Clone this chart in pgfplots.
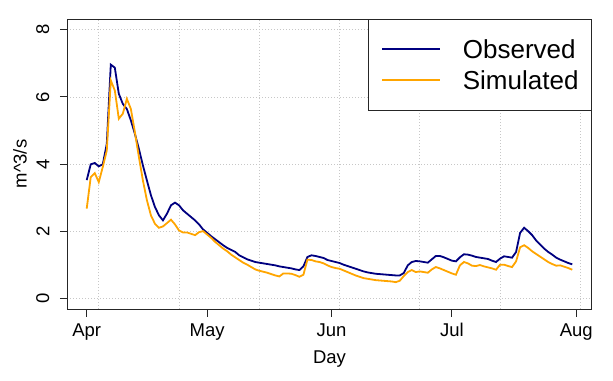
\documentclass[border=0pt]{standalone}
\usepackage{pgfplots}
\usepackage{pgfplotstable}
\pgfplotsset{compat=1.18}
\usepackage{fontspec}
\setmainfont{Liberation Sans}
\definecolor{obs}{HTML}{000080}
\definecolor{sim}{HTML}{FFA500}
\pgfplotstableread{
d obs sim
0 3.52 2.67
1 3.99 3.61
2 4.03 3.73
3 3.93 3.46
4 3.99 3.91
5 4.60 4.40
6 6.96 6.49
7 6.87 6.19
8 6.09 5.35
9 5.79 5.50
10 5.64 5.94
11 5.30 5.64
12 4.90 4.95
13 4.45 4.21
14 3.96 3.51
15 3.51 2.92
16 3.07 2.47
17 2.72 2.22
18 2.47 2.10
19 2.32 2.14
20 2.52 2.24
21 2.77 2.34
22 2.85 2.20
23 2.77 2.02
24 2.62 1.96
25 2.52 1.96
26 2.42 1.92
27 2.32 1.88
28 2.20 1.97
29 2.05 2.00
30 1.95 1.90
31 1.85 1.80
32 1.76 1.68
33 1.67 1.58
34 1.58 1.48
35 1.50 1.40
36 1.44 1.30
37 1.38 1.22
38 1.28 1.14
39 1.22 1.06
40 1.16 1.00
41 1.12 0.93
42 1.08 0.86
43 1.06 0.82
44 1.04 0.79
45 1.02 0.76
46 1.00 0.72
47 0.98 0.68
48 0.95 0.65
49 0.93 0.74
50 0.91 0.74
51 0.89 0.73
52 0.86 0.69
53 0.84 0.64
54 0.95 0.70
55 1.23 1.15
56 1.28 1.14
57 1.26 1.10
58 1.23 1.08
59 1.20 1.04
60 1.14 0.98
61 1.11 0.93
62 1.08 0.90
63 1.05 0.88
64 1.00 0.83
65 0.96 0.78
66 0.92 0.73
67 0.88 0.68
68 0.84 0.64
69 0.80 0.60
70 0.77 0.58
71 0.75 0.56
72 0.73 0.54
73 0.72 0.53
74 0.71 0.52
75 0.70 0.51
76 0.69 0.50
77 0.68 0.48
78 0.68 0.52
79 0.75 0.66
80 0.98 0.78
81 1.08 0.84
82 1.11 0.78
83 1.10 0.80
84 1.08 0.78
85 1.06 0.76
86 1.16 0.86
87 1.26 0.93
88 1.26 0.89
89 1.22 0.84
90 1.17 0.79
91 1.12 0.74
92 1.10 0.70
93 1.22 0.98
94 1.31 1.08
95 1.30 1.04
96 1.27 0.97
97 1.23 0.96
98 1.21 0.99
99 1.19 0.95
100 1.17 0.92
101 1.12 0.89
102 1.08 0.85
103 1.18 1.00
104 1.25 1.00
105 1.23 0.96
106 1.21 0.93
107 1.38 1.10
108 1.95 1.52
109 2.10 1.58
110 2.00 1.50
111 1.88 1.40
112 1.72 1.32
113 1.60 1.24
114 1.48 1.16
115 1.38 1.08
116 1.30 1.02
117 1.21 0.97
118 1.15 0.98
119 1.10 0.94
120 1.05 0.90
121 1.01 0.85
}\flowdata
\begin{document}
\begin{tikzpicture}
\useasboundingbox (-67.3bp,-72bp) rectangle (545.7bp,309bp);
\begin{axis}[
  at={(0,0)}, anchor=south west,
  scale only axis, width=524.4bp, height=290bp,
  xmin=-4.84, xmax=125.84, ymin=-0.32, ymax=8.32,
  xtick={0,30,61,91,122}, xticklabels={Apr,May,Jun,Jul,Aug},
  ytick={0,2,4,6,8},
  minor xtick={3,23,43,63,83,103,123},
  xminorgrids, ymajorgrids,
  major grid style={dash pattern=on 1bp off 2bp, color=black!22, line width=0.7bp},
  minor grid style={dash pattern=on 1bp off 2bp, color=black!22, line width=0.7bp},
  minor tick length=0pt,
  tick align=outside, major tick length=7.5bp,
  xtick pos=bottom, ytick pos=left,
  axis line style={black!85, line width=0.8bp},
  every tick/.style={black!85, line width=0.8bp},
  tick label style={font=\fontsize{18.5bp}{22bp}\selectfont},
  /pgf/number format/assume math mode=true,
  yticklabel style={rotate=90, anchor=south, inner sep=0pt},
  xticklabel style={anchor=base, inner sep=0pt},
  xticklabel shift=20.2bp, yticklabel shift=10.3bp,
  xlabel={Day}, ylabel={m\textasciicircum 3/s},
  label style={font=\fontsize{18.5bp}{22bp}\selectfont},
  xlabel style={at={(axis description cs:0.5,-0.1862)}, anchor=base, inner sep=0pt},
  ylabel style={at={(axis description cs:-0.0774,0.5)}, anchor=base, inner sep=0pt},
  legend style={at={(1,1)}, anchor=north east, draw=black!85, line width=0.8bp, fill=white,
    font=\fontsize{26bp}{30bp}\selectfont, inner xsep=12.8bp, inner ysep=20.5bp,
    row sep=12bp, cells={anchor=west},
    nodes={inner sep=0pt, text height=19bp, text depth=0bp},
    /tikz/every odd column/.append style={column sep=22.3bp}},
  legend image code/.code={\path (0bp,0bp) -- (57.5bp,0bp); \draw[#1, line width=2bp] (9.5bp,0bp) -- (57.5bp,0bp);},
]
\addplot[obs, line width=1.8bp] table[x=d, y=obs] {\flowdata};
\addlegendentry{Observed}
\addplot[sim, line width=1.8bp] table[x=d, y=sim] {\flowdata};
\addlegendentry{Simulated}
\end{axis}
\end{tikzpicture}
\end{document}
